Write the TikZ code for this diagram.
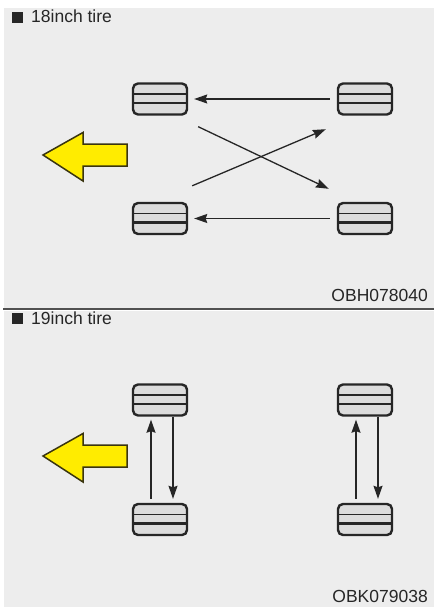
\documentclass[tikz,border=0pt]{standalone}
\usepackage{fontspec}
\setmainfont{Liberation Sans}
\usepackage{xcolor}
\usepackage{tikz}
\usetikzlibrary{arrows.meta, calc}

\definecolor{panelgray}{HTML}{EDEDED}
\definecolor{tiregray}{HTML}{DCDCDC}
\definecolor{inkgray}{HTML}{262626}
\definecolor{signyellow}{HTML}{FFEC00}
\definecolor{signedge}{HTML}{3A3510}

\begin{document}
\begin{tikzpicture}[
    x=1pt, y=-1pt,
    tire/.style={rectangle, rounded corners=5pt, draw=inkgray, fill=tiregray, line width=2.4pt,
        minimum width=54pt, minimum height=31pt, inner sep=0pt,
        path picture={
            \draw[inkgray, line width=1.9pt]
                ($(path picture bounding box.north west)!0.34!(path picture bounding box.south west)$) --
                ($(path picture bounding box.north east)!0.34!(path picture bounding box.south east)$);
            \draw[inkgray, line width=2.1pt]
                ($(path picture bounding box.north west)!0.63!(path picture bounding box.south west)$) --
                ($(path picture bounding box.north east)!0.63!(path picture bounding box.south east)$);
        }},
    move/.style={-{Stealth[length=13pt, width=9pt, inset=1.5pt]}, line width=1.3pt, color=inkgray},
    front/.style={fill=signyellow, draw=signedge, line width=1.5pt, line join=miter},
    heading/.style={anchor=base west, inner sep=0pt, font=\fontsize{17.5}{19}\selectfont, text=inkgray},
    code/.style={anchor=base east, inner sep=0pt, font=\fontsize{17.5}{19}\selectfont, text=inkgray},
    bullet/.style={rectangle, fill=inkgray, minimum size=11pt, inner sep=0pt}
]
\useasboundingbox (0,0) rectangle (434,607);
\fill[white] (0,0) rectangle (434,607);

% Panelen
\fill[panelgray] (4,8) rectangle (434,307.5);
\fill[panelgray] (4,310.5) rectangle (434,607);
\draw[inkgray!80, line width=2pt] (3,309) -- (434,309);

% 18 inch: kruiswissel
\node[bullet] (sqA) at (17,17.5) {};
\node[heading] (headA) at (31,23) {18inch tire};
\node[code] (codeA) at (428,301) {OBH078040};

\node[tire] (fl) at (160,99) {};
\node[tire] (fr) at (365,99) {};
\node[tire] (rl) at (160,218.5) {};
\node[tire] (rr) at (365,218.5) {};

\draw[move] ($(fr.west)+(-7,0)$) -- ($(fl.east)+(6,0)$);
\draw[move] ($(rr.west)+(-7,0)$) -- ($(rl.east)+(6,0)$);
\draw[move] ($(fl.south east)+(10,11)$) -- ($(rr.north west)+(-8,-13)$);
\draw[move] ($(rl.north east)+(4,-16)$) -- ($(fr.south west)+(-11,13.5)$);

\draw[front] (43,155) -- (83,132.5) -- (83,144) -- (127,144) -- (127,166) -- (83,166) -- (83,181) -- cycle;

% 19 inch: zelfde kant
\begin{scope}[shift={(0,301)}]
\node[bullet] (sqB) at (17,17.5) {};
\node[heading] (headB) at (31,23) {19inch tire};
\node[code] (codeB) at (428,301) {OBK079038};

\node[tire] (fl2) at (160,99) {};
\node[tire] (fr2) at (365,99) {};
\node[tire] (rl2) at (160,218.5) {};
\node[tire] (rr2) at (365,218.5) {};

\foreach \a/\b in {fl2/rl2, fr2/rr2} {
    \draw[move] ($(\b.north)+(-9,-4)$) -- ($(\a.south)+(-9,3)$);
    \draw[move] ($(\a.south)+(13,0)$) -- ($(\b.north)+(13,-4)$);
}

\draw[front] (43,155) -- (83,132.5) -- (83,144) -- (127,144) -- (127,166) -- (83,166) -- (83,181) -- cycle;
\end{scope}

\end{tikzpicture}
\end{document}
